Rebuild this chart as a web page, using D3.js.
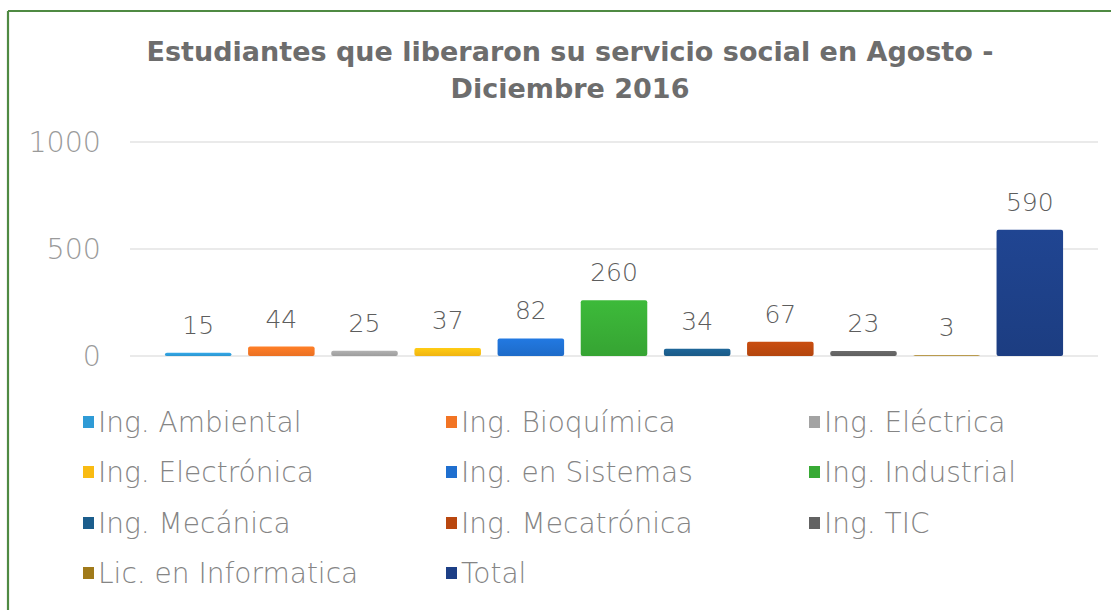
<!DOCTYPE html>
<html>
<head>
<meta charset="utf-8">
<script src="https://cdn.jsdelivr.net/npm/d3@7"></script>
<style>
  html, body { margin: 0; padding: 0; background: #fff; }
  svg { display: block; }
</style>
</head>
<body>
<svg id="chart" width="1111" height="610"></svg>
<script>
// Careers (categories) and number of students who completed social service
const categories = [
  "Ing. Ambiental", "Ing. Bioquímica", "Ing. Eléctrica", "Ing. Electrónica",
  "Ing. en Sistemas", "Ing. Industrial", "Ing. Mecánica", "Ing. Mecatrónica",
  "Ing. TIC", "Lic. en Informatica", "Total"
];
const values = [15, 44, 25, 37, 82, 260, 34, 67, 23, 3, 590];
const colors = [
  "#2f9bd6", "#f27424", "#a3a3a3", "#f9bb12",
  "#1f6fcf", "#38aa35", "#1b5d8c", "#b9470f",
  "#626262", "#a07a1a", "#1d3f86"
];
const yTicks = [0, 500, 1000];
const titleLines = ["Estudiantes que liberaron su servicio social en Agosto -", "Diciembre 2016"];

const svg = d3.select("#chart");
const W = 1111, H = 610;

// Frame
svg.append("rect").attr("x", 0).attr("y", 0).attr("width", W).attr("height", H).attr("fill", "#fff");
svg.append("line").attr("x1", 8).attr("x2", W).attr("y1", 11).attr("y2", 11)
  .attr("stroke", "#4f8a43").attr("stroke-width", 2.2);
svg.append("line").attr("x1", 8).attr("x2", 8).attr("y1", 11).attr("y2", H)
  .attr("stroke", "#4f8a43").attr("stroke-width", 2.2);

// Title
svg.append("text")
  .attr("x", 570).attr("y", 61)
  .attr("text-anchor", "middle")
  .attr("font-family", "'DejaVu Sans', sans-serif")
  .attr("font-weight", "bold")
  .attr("font-size", 27)
  .attr("fill", "#6d6d6d")
  .selectAll("tspan").data(titleLines).join("tspan")
  .attr("x", 570).attr("dy", (d, i) => i === 0 ? 0 : 37)
  .text(d => d);

// Scales
const plotLeft = 130, plotRight = 1098;
const x = d3.scaleBand().domain(categories).range([plotLeft, plotRight])
  .paddingInner(0.2).paddingOuter(0.42);
const y = d3.scaleLinear().domain([0, 1000]).range([356, 142]);

const lightFont = "'DejaVu Sans', sans-serif";
const lightWeight = 200;

// Gridlines
svg.append("g").selectAll("line").data(yTicks).join("line")
  .attr("x1", plotLeft).attr("x2", plotRight)
  .attr("y1", d => y(d)).attr("y2", d => y(d))
  .attr("stroke", "#e3e3e3").attr("stroke-width", 1.3);

// Y axis labels
const yAxis = d3.axisLeft(y).tickValues(yTicks).tickFormat(d3.format("d")).tickSize(0).tickPadding(0);
const gy = svg.append("g").attr("transform", `translate(101,0)`).call(yAxis);
gy.select(".domain").remove();
gy.selectAll("text")
  .attr("font-family", lightFont).attr("font-weight", lightWeight)
  .attr("font-size", 28.5).attr("fill", "#9a9a9a").attr("dy", "0.35em");

// Bar gradients (slightly lighter at top)
const defs = svg.append("defs");
categories.forEach((c, i) => {
  const g = defs.append("linearGradient").attr("id", "grad" + i)
    .attr("x1", 0).attr("x2", 0).attr("y1", 0).attr("y2", 1);
  g.append("stop").attr("offset", "0%").attr("stop-color", d3.color(colors[i]).brighter(0.25));
  g.append("stop").attr("offset", "100%").attr("stop-color", d3.color(colors[i]).darker(0.1));
});

// Bars
svg.append("g").selectAll("rect").data(values).join("rect")
  .attr("x", (d, i) => x(categories[i]))
  .attr("width", x.bandwidth())
  .attr("y", d => y(d))
  .attr("height", d => y(0) - y(d))
  .attr("rx", 2)
  .attr("fill", (d, i) => `url(#grad${i})`);

// Value labels
svg.append("g").selectAll("text").data(values).join("text")
  .attr("x", (d, i) => x(categories[i]) + x.bandwidth() / 2)
  .attr("y", d => y(d) - 19)
  .attr("text-anchor", "middle")
  .attr("font-family", lightFont).attr("font-weight", lightWeight)
  .attr("font-size", 25).attr("fill", "#5d5d5d")
  .text(d => d);

// Legend: 3 columns, row-major order
const legendCols = [83, 446, 809];
const legendRowY = [422, 472, 523, 573];
const leg = svg.append("g").selectAll("g").data(categories).join("g")
  .attr("transform", (d, i) => `translate(${legendCols[i % 3]},${legendRowY[Math.floor(i / 3)]})`);
leg.append("rect")
  .attr("x", 0).attr("y", -6).attr("width", 11).attr("height", 12)
  .attr("fill", (d, i) => colors[i]);
leg.append("text")
  .attr("x", 15).attr("y", 0).attr("dy", "0.35em")
  .attr("font-family", lightFont).attr("font-weight", lightWeight)
  .attr("font-size", 28).attr("fill", "#858585")
  .text(d => d);
</script>
</body>
</html>
